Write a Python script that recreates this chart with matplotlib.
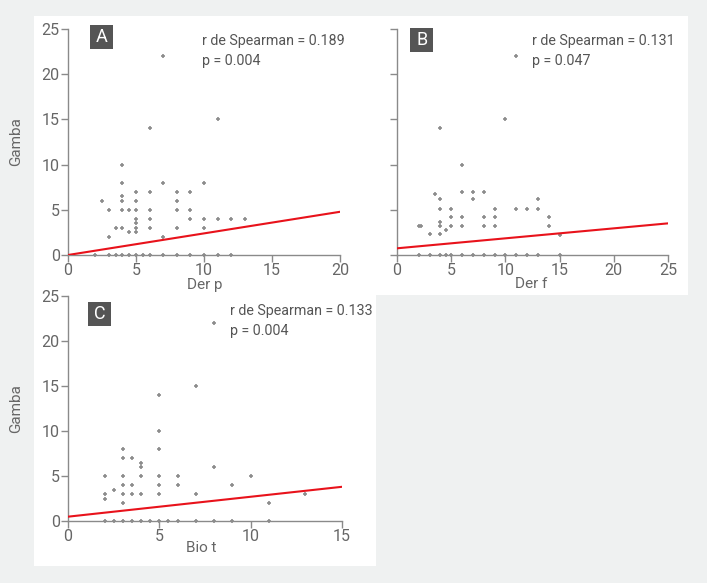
import matplotlib.pyplot as plt
from matplotlib.patches import Rectangle

# panel A: Der p vs Gamba
a_x = [7, 11, 6, 4, 4, 7, 10, 4, 4, 5, 6, 8, 9, 2.5, 5, 8,
       3, 4, 4.5, 5, 6, 8, 9,
       5, 6, 9, 10, 11, 12, 13,
       5,
       3.5, 4, 5, 6, 8, 10,
       4.5, 5,
       3, 7,
       2, 3, 3.5, 4, 4.5, 5, 5.5, 6, 7, 8, 9, 10, 11, 12]
a_y = [22, 15, 14, 10, 8, 8, 8, 6.5, 6, 7, 7, 7, 7, 6, 6, 6,
       5, 5, 5, 5, 5, 5, 5,
       4, 4, 4, 4, 4, 4, 4,
       3.5,
       3, 3, 3, 3, 3, 3,
       2.5, 2.5,
       2, 2,
       0, 0, 0, 0, 0, 0, 0, 0, 0, 0, 0, 0, 0, 0]
a_fit = [0.0, 4.78]   # fitted line at x = 0 and x = 20

# panel B: Der f vs Gamba
b_x = [11, 10, 4, 6, 6, 7, 8, 3.5, 4, 7, 13,
       4, 5, 9, 11, 12, 13,
       5, 6, 8, 9, 14,
       4,
       2, 2.2, 4, 5, 6, 8, 9, 14,
       4.5, 3, 4, 15,
       2, 3, 4, 4.5, 5, 6, 7, 8, 9, 10, 11, 12, 13, 15]
b_y = [22, 15, 14, 10, 7, 7, 7, 6.7, 6.2, 6.2, 6.2,
       5.1, 5.1, 5.1, 5.1, 5.1, 5.1,
       4.2, 4.2, 4.2, 4.2, 4.2,
       3.7,
       3.2, 3.2, 3.2, 3.2, 3.2, 3.2, 3.2, 3.2,
       2.8, 2.3, 2.3, 2.2,
       0, 0, 0, 0, 0, 0, 0, 0, 0, 0, 0, 0, 0, 0]
b_fit = [0.74, 3.5]   # at x = 0 and x = 25

# panel C: Bio t vs Gamba
c_x = [8, 7, 5, 5, 5, 3, 3, 3.5, 4, 4, 8,
       2, 3, 4, 5, 6, 10,
       3, 3.5, 5, 6, 9,
       2.5,
       2, 3, 3.5, 4, 5, 7, 13,
       2, 3, 11,
       2, 2.5, 3, 3.5, 4, 4.5, 5, 5.5, 6, 7, 8, 9, 11]
c_y = [22, 15, 14, 10, 8, 8, 7, 7, 6.5, 6, 6,
       5, 5, 5, 5, 5, 5,
       4, 4, 4, 4, 4,
       3.5,
       3, 3, 3, 3, 3, 3, 3,
       2.5, 2, 2,
       0, 0, 0, 0, 0, 0, 0, 0, 0, 0, 0, 0, 0]
c_fit = [0.48, 3.8]   # at x = 0 and x = 15

panels = [
    dict(label="A", x=a_x, y=a_y, fit=a_fit, xmax=20, xticks=[0, 5, 10, 15, 20],
         xlabel="Der p", r="0.189", p="0.004"),
    dict(label="B", x=b_x, y=b_y, fit=b_fit, xmax=25, xticks=[0, 5, 10, 15, 20, 25],
         xlabel="Der f", r="0.131", p="0.047"),
    dict(label="C", x=c_x, y=c_y, fit=c_fit, xmax=15, xticks=[0, 5, 10, 15],
         xlabel="Bio t", r="0.133", p="0.004"),
]
yticks = [0, 5, 10, 15, 20, 25]

W, H = 707, 583
plt.rcParams["font.family"] = ["Roboto", "DejaVu Sans"]
text_col = "#666666"
spine_col = "#8a8a8a"

fig = plt.figure(figsize=(W / 100, H / 100), dpi=100, facecolor="#eff1f1")

# white backgrounds behind the panels
fig.patches.append(Rectangle((34 / W, 1 - 295 / H), (688 - 34) / W, (295 - 16) / H,
                             transform=fig.transFigure, facecolor="white", edgecolor="none", zorder=-5))
fig.patches.append(Rectangle((34 / W, 1 - 566 / H), (376 - 34) / W, (566 - 295) / H,
                             transform=fig.transFigure, facecolor="white", edgecolor="none", zorder=-5))

# axes rectangles in pixels: left, right, bottom, top
boxes = [(68, 340, 255, 29), (397, 668, 255, 29), (68, 342, 521, 296)]
# settings per panel: letter box centre, text position, xlabel position
letter_pos = [(0.123, 0.965), (0.092, 0.951), (0.115, 0.922)]
stat_pos = [(0.493, 0.947, 0.858), (0.497, 0.947, 0.858), (0.591, 0.933, 0.844)]
xlab_pos = [(0.504, -0.100), (0.497, -0.097), (0.488, -0.088)]

for i, pnl in enumerate(panels):
    l, r, b, t = boxes[i]
    ax = fig.add_axes([l / W, 1 - b / H, (r - l) / W, (b - t) / H])
    ax.set_facecolor("none")

    ax.plot(pnl["x"], pnl["y"], linestyle="none", marker="+", markersize=3.5,
            markeredgewidth=1.2, color="#8c8c8c", clip_on=False, zorder=3)
    ax.plot([0, pnl["xmax"]], pnl["fit"], color="#e8121b", linewidth=1.5, zorder=4)

    ax.set_xlim(0, pnl["xmax"])
    ax.set_ylim(0, 25)
    ax.set_xticks(pnl["xticks"])
    ax.set_yticks(yticks)
    for s in ["top", "right"]:
        ax.spines[s].set_visible(False)
    for s in ["left", "bottom"]:
        ax.spines[s].set_color(spine_col)
        ax.spines[s].set_linewidth(1.0)
    ax.tick_params(colors=spine_col, labelcolor=text_col, labelsize=11.5, length=5, width=1, pad=1)
    if pnl["label"] == "B":
        ax.set_yticklabels([])
    else:
        ax.set_ylabel("Gamba", color=text_col, fontsize=11)
        ax.yaxis.set_label_coords(-0.165, 0.5)

    ax.set_xlabel(pnl["xlabel"], color=text_col, fontsize=11)
    ax.xaxis.set_label_coords(*xlab_pos[i])

    # panel letter in a dark box
    cx, cy = letter_pos[i]
    bw, bh = 23 / (r - l), 24 / (b - t)
    ax.add_patch(Rectangle((cx - bw / 2, cy - bh / 2), bw, bh, transform=ax.transAxes,
                           facecolor="#555555", edgecolor="none", clip_on=False, zorder=5))
    ax.text(cx, cy, pnl["label"], transform=ax.transAxes, ha="center", va="center",
            color="white", fontsize=13, zorder=6)

    sx, sy1, sy2 = stat_pos[i]
    ax.text(sx, sy1, "r de Spearman = " + pnl["r"], transform=ax.transAxes,
            ha="left", va="center", color="#555555", fontsize=10.3)
    ax.text(sx, sy2, "p = " + pnl["p"], transform=ax.transAxes,
            ha="left", va="center", color="#555555", fontsize=10.3)

fig.savefig("out.png", dpi=100, facecolor=fig.get_facecolor())
